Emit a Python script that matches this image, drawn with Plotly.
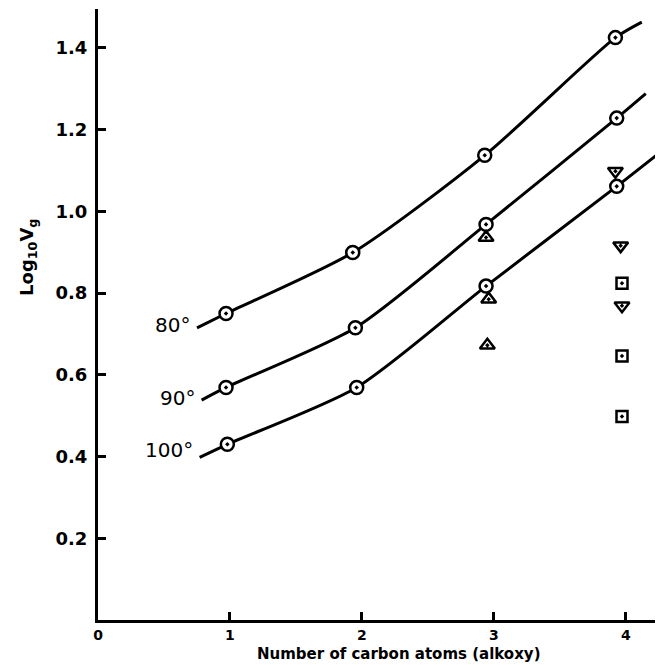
import plotly.graph_objects as go

# ---- data ----
x_ticks = [0, 1, 2, 3, 4]
y_ticks = [0.2, 0.4, 0.6, 0.8, 1.0, 1.2, 1.4]
y_tick_text = ["0.2", "0.4", "0.6", "0.8", "1.0", "1.2", "1.4"]

# measured points (open circles with a dot)
x_80 = [0.97, 1.93, 2.93, 3.92]
y_80 = [0.750, 0.899, 1.137, 1.425]
x_90 = [0.97, 1.95, 2.94, 3.93]
y_90 = [0.569, 0.715, 0.968, 1.228]
x_100 = [0.98, 1.96, 2.94, 3.93]
y_100 = [0.430, 0.569, 0.817, 1.061]

# drawn smooth curves (start, through points, end)
curve_80_x = [0.75, 0.97, 1.93, 2.93, 3.92, 4.12]
curve_80_y = [0.715, 0.750, 0.899, 1.137, 1.425, 1.463]
curve_90_x = [0.785, 0.97, 1.95, 2.94, 3.93, 4.15]
curve_90_y = [0.538, 0.569, 0.715, 0.968, 1.228, 1.288]
curve_100_x = [0.77, 0.98, 1.96, 2.94, 3.93, 4.23]
curve_100_y = [0.398, 0.430, 0.569, 0.817, 1.061, 1.137]

# other symbols
tri_up_x = [2.94, 2.96, 2.95]
tri_up_y = [0.936, 0.785, 0.672]
tri_down_x = [3.92, 3.96, 3.97]
tri_down_y = [1.098, 0.916, 0.769]
square_x = [3.97, 3.97, 3.97]
square_y = [0.824, 0.646, 0.498]

curve_labels = ["80°", "90°", "100°"]
label_x = [0.71, 0.75, 0.735]
label_y = [0.723, 0.543, 0.415]

x_title = "Number of carbon atoms (alkoxy)"
y_title = "Log<sub>10</sub>V<sub>g</sub>"

fig = go.Figure()

for cx, cy in [(curve_80_x, curve_80_y), (curve_90_x, curve_90_y), (curve_100_x, curve_100_y)]:
    fig.add_trace(go.Scatter(x=cx, y=cy, mode="lines", line=dict(color="black", width=3, shape="spline", smoothing=0.7),
                             showlegend=False, hoverinfo="skip"))

for px, py in [(x_80, y_80), (x_90, y_90), (x_100, y_100)]:
    fig.add_trace(go.Scatter(x=px, y=py, mode="markers",
                             marker=dict(symbol="circle-dot", size=13, color="white",
                                         line=dict(color="black", width=2.5)),
                             showlegend=False))

fig.add_trace(go.Scatter(x=tri_up_x, y=tri_up_y, mode="markers",
                         marker=dict(symbol="triangle-up-dot", size=13, color="white",
                                     line=dict(color="black", width=2.5)), showlegend=False))
fig.add_trace(go.Scatter(x=tri_down_x, y=tri_down_y, mode="markers",
                         marker=dict(symbol="triangle-down-dot", size=13, color="white",
                                     line=dict(color="black", width=2.5)), showlegend=False))
fig.add_trace(go.Scatter(x=square_x, y=square_y, mode="markers",
                         marker=dict(symbol="square-dot", size=11, color="white",
                                     line=dict(color="black", width=2.5)), showlegend=False))

for t, lx, ly in zip(curve_labels, label_x, label_y):
    fig.add_annotation(x=lx, y=ly, text=t, showarrow=False, xanchor="right", yanchor="middle",
                       font=dict(family="DejaVu Sans", size=20, color="black"))

fig.add_annotation(xref="paper", yref="paper", x=-0.126, y=0.594, text=y_title,
                   textangle=-90, showarrow=False, xanchor="center", yanchor="middle",
                   font=dict(family="DejaVu Sans", size=18, color="black", weight="bold"))

fig.add_annotation(xref="paper", yref="paper", x=0.54, y=-44 / 611, text=x_title,
                   showarrow=False, xanchor="center", yanchor="bottom", borderpad=0,
                   font=dict(family="DejaVu Sans", size=15, color="black", weight="bold"))

fig.update_layout(
    width=657, height=665,
    margin=dict(l=98, r=2, t=9, b=45),
    paper_bgcolor="white", plot_bgcolor="white",
    xaxis=dict(range=[0, 4.22], tickvals=x_ticks, ticktext=[str(v) for v in x_ticks],
               showgrid=False, zeroline=False, showline=True, linecolor="black", linewidth=3,
               ticks="inside", ticklen=8, tickwidth=2.5, tickcolor="black", ticklabelstandoff=0,
               tickfont=dict(family="DejaVu Sans", size=14, color="black", weight="bold")),
    yaxis=dict(range=[0, 1.495], tickvals=y_ticks, ticktext=y_tick_text,
               showgrid=False, zeroline=False, showline=True, linecolor="black", linewidth=3,
               ticks="inside", ticklen=8, tickwidth=2.5, tickcolor="black", ticklabelstandoff=4,
               tickfont=dict(family="DejaVu Sans", size=18, color="black", weight="bold")),
)

fig.write_html("out.html")
